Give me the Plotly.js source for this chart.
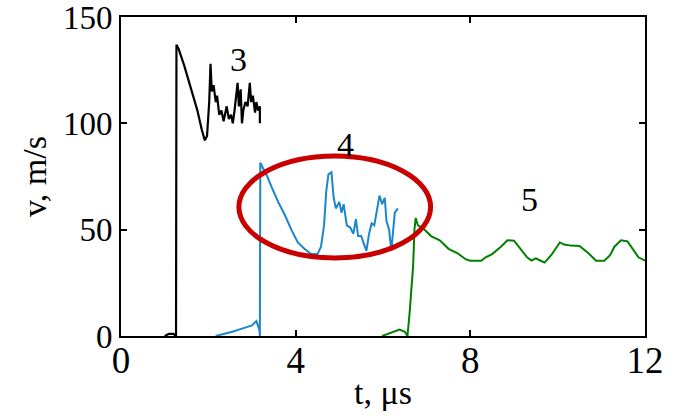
<!DOCTYPE html>
<html><head><meta charset="utf-8">
<script src="https://cdn.plot.ly/plotly-3.0.1.min.js"></script>
<style>html,body{margin:0;padding:0;background:#fff}#c{width:676px;height:416px}</style>
</head><body><div id="c"></div>
<script>
// Curve 3 (black)
const t3 = [1.0,1.1,1.2,1.26,1.27,1.32,1.45,1.6,1.75,1.85,1.92,1.97,2.02,2.05,2.08,2.12,2.17,2.2,2.25,2.3,2.35,2.42,2.47,2.52,2.56,2.6,2.63,2.67,2.7,2.74,2.77,2.8,2.85,2.9,2.95,2.98,3.02,3.07,3.1,3.14,3.18,3.18];
const v3 = [0,1,1,0,137,135,127,117,106,97,92,94,110,128,115,118,110,113,104,106,101,108,102,104,100,106,112,119,108,116,100,106,110,108,119,110,113,105,110,106,108,100];
// Curve 4 (blue)
const t4 = [2.17,2.4,2.55,2.7,2.85,3.0,3.1,3.17,3.18,3.19,3.25,3.35,3.45,3.6,3.75,3.9,4.05,4.2,4.35,4.5,4.58,4.65,4.7,4.75,4.82,4.87,4.92,5.0,5.05,5.1,5.17,5.25,5.32,5.38,5.43,5.5,5.55,5.62,5.68,5.74,5.8,5.86,5.92,5.98,6.04,6.08,6.14,6.19,6.23,6.27,6.34];
const v4 = [0,1,2,3,4,5,7,3,0,81.5,79,75,70,63,57,50,44,41,38.5,38.5,42,52,68,76,77,65,60,63,58,62,52,51,48,55,47,47,44,40,48,53,52,60,66,62,65,54,50,40,48,58,60];
// Curve 5 (green)
const t5 = [5.98,6.2,6.38,6.5,6.56,6.61,6.66,6.69,6.72,6.75,6.8,6.9,7.0,7.1,7.3,7.5,7.7,7.9,8.0,8.25,8.35,8.5,8.7,8.85,9.0,9.15,9.3,9.4,9.5,9.6,9.7,9.85,9.95,10.05,10.15,10.3,10.5,10.7,10.88,11.07,11.2,11.3,11.45,11.6,11.75,11.85,12.0];
const v5 = [0,1.5,3,2,0,11,25,33,50,55.5,52,51,49,47,45,41,39,36,35.4,35.4,37,38.5,42,45,44.8,41,37,35.5,36.5,35.5,34.5,38,41,44,43,42.5,42.3,39,35.4,35.4,38,42,45,44.5,40,37,35.4];
const curveLabels = ["3","4","5"];
const labelT = [2.68,5.13,9.36];
const labelV = [130,90,64];
const xTicks = [0,4,8,12];
const yTicks = [0,50,100,150];
const ellipseT = [2.70,7.09];
const ellipseV = [36.7,84.6];

const FONT = "Liberation Serif, Times New Roman, serif";
const traces = [
  {x:t3,y:v3,mode:"lines",line:{color:"#000000",width:2.2}},
  {x:t4,y:v4,mode:"lines",line:{color:"#1a86cc",width:2}},
  {x:t5,y:v5,mode:"lines",line:{color:"#008000",width:2}}
];
const axisCommon = {showgrid:false,zeroline:false,showline:true,linecolor:"#000",linewidth:2,mirror:"ticks",ticks:"inside",ticklen:6,tickwidth:2,tickcolor:"#000",ticklabeloverflow:"allow"};
const layout = {
  width:676,height:416,
  margin:{l:121,r:31,t:17,b:80},
  paper_bgcolor:"#fff",plot_bgcolor:"#fff",
  showlegend:false,
  font:{family:FONT,color:"#000"},
  xaxis:Object.assign({},axisCommon,{range:[0,12],tickvals:xTicks,ticktext:xTicks.map(String),tickfont:{size:37,family:FONT},ticklabelstandoff:-9,title:{text:"t, μs",font:{size:34,family:FONT},standoff:0}}),
  yaxis:Object.assign({},axisCommon,{range:[0,150],tickvals:yTicks,ticktext:yTicks.map(String),tickfont:{size:33,family:FONT},title:{text:"v, m/s",font:{size:34,family:FONT},standoff:6}}),
  shapes:[{type:"circle",xref:"x",yref:"y",x0:ellipseT[0],x1:ellipseT[1],y0:ellipseV[0],y1:ellipseV[1],line:{color:"#c80000",width:5}}],
  annotations:curveLabels.map((s,i)=>({x:labelT[i],y:labelV[i],xref:"x",yref:"y",text:s,showarrow:false,font:{size:34,family:FONT,color:"#000"}}))
};
Plotly.newPlot("c",traces,layout,{staticPlot:true,displayModeBar:false});
</script></body></html>
